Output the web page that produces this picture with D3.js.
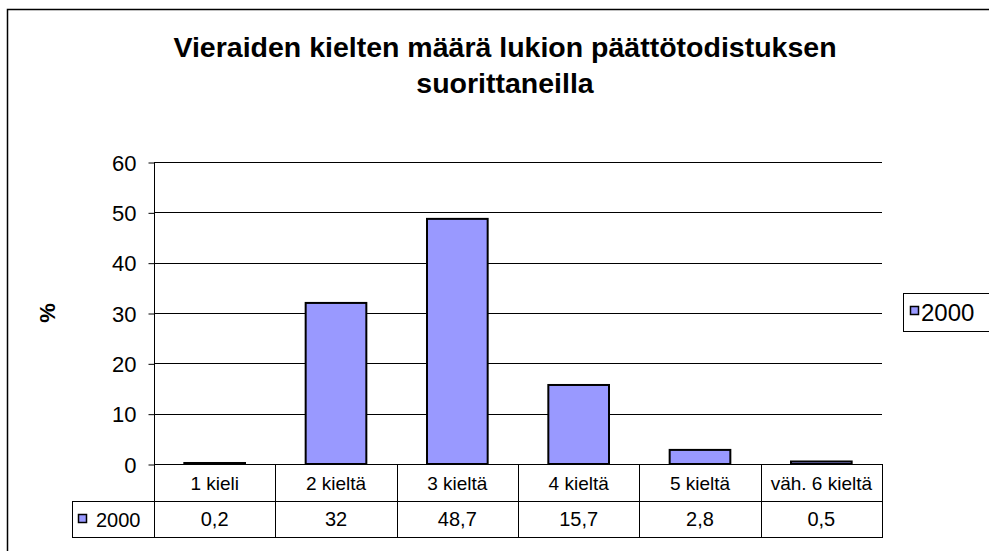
<!DOCTYPE html>
<html>
<head>
<meta charset="utf-8">
<script src="https://cdn.jsdelivr.net/npm/d3@7"></script>
<style>
body{margin:0;background:#fff;}
svg text{font-family:"Liberation Sans",Arial,sans-serif;fill:#000;}
</style>
</head>
<body>
<div id="plot"></div>
<script>
// data
var categories = ['1 kieli','2 kieltä','3 kieltä','4 kieltä','5 kieltä','väh. 6 kieltä'];
var values2000 = [0.2, 32, 48.7, 15.7, 2.8, 0.5];
var valueLabels = ['0,2','32','48,7','15,7','2,8','0,5'];
var seriesName = '2000';
var yTicks = [0,10,20,30,40,50,60];

var W = 989, H = 551;
var plotL = 154, plotR = 882, plotT = 162, plotB = 464;
var barColor = '#9999ff';

var svg = d3.select('#plot')
	.append('svg')
	.attr('width',W)
	.attr('height',H);

svg.append('rect').attr('width',W).attr('height',H).style('fill','#fff');

//outer chart border
svg.append('rect')
	.attr('x',7.5).attr('y',9.5)
	.attr('width',1000).attr('height',600)
	.style('fill','none').style('stroke','#000').style('stroke-width',1.5);

//title
var title = svg.append('text')
	.attr('text-anchor','middle')
	.style('font-size','28.5px')
	.style('font-weight','bold');
title.append('tspan').attr('x',505).attr('y',57).text('Vieraiden kielten määrä lukion päättötodistuksen');
title.append('tspan').attr('x',505).attr('y',93).text('suorittaneilla');

var x = d3.scaleBand().domain(categories).range([plotL,plotR]).padding(0);
var y = d3.scaleLinear().domain([0,60]).range([plotB,plotT]);

//gridlines
svg.append('g').selectAll('line')
	.data(yTicks)
	.enter().append('line')
	.attr('x1',plotL).attr('x2',plotR)
	.attr('y1',function(d){return Math.round(y(d))+0.5;})
	.attr('y2',function(d){return Math.round(y(d))+0.5;})
	.style('stroke','#000').style('stroke-width',1);

//y axis
var yAxis = svg.append('g')
	.attr('transform','translate('+(plotL+0.5)+',0.5)')
	.call(d3.axisLeft(y).tickValues(yTicks).tickSize(6).tickPadding(12).tickSizeOuter(0));
yAxis.select('.domain').attr('d','M0,'+(plotT-0.5)+'V'+(plotB-0.5)).style('stroke','#000');
yAxis.selectAll('text').style('font-size','22px').style('font-family','"Liberation Sans",Arial,sans-serif').attr('dy','0.35em');

//axis title
svg.append('text')
	.attr('transform','translate(55,313) rotate(-90)')
	.attr('text-anchor','middle')
	.style('font-size','22px')
	.style('font-weight','bold')
	.text('%');

//bars
var bw = x.bandwidth()*0.5;
svg.append('g').selectAll('rect')
	.data(values2000)
	.enter().append('rect')
	.attr('x',function(d,i){return x(categories[i])+(x.bandwidth()-bw)/2;})
	.attr('y',function(d){return y(d);})
	.attr('width',bw)
	.attr('height',function(d){return y(0)-y(d);})
	.style('fill',barColor)
	.style('stroke','#000')
	.style('stroke-width',2);

//data table
var rowTop = plotB, rowMid = 501, rowBot = 537, tableL = 72;
var tbl = svg.append('g').style('stroke','#000').style('stroke-width',1);
tbl.append('line').attr('x1',plotL).attr('x2',plotR).attr('y1',rowTop+0.5).attr('y2',rowTop+0.5);
tbl.append('line').attr('x1',tableL).attr('x2',plotR).attr('y1',rowMid+0.5).attr('y2',rowMid+0.5);
tbl.append('line').attr('x1',tableL).attr('x2',plotR).attr('y1',rowBot+0.5).attr('y2',rowBot+0.5);
tbl.append('line').attr('x1',tableL+0.5).attr('x2',tableL+0.5).attr('y1',rowMid).attr('y2',rowBot+1);
var bounds = categories.map(function(c){return x(c);}).concat([plotR]);
tbl.selectAll('line.v').data(bounds).enter().append('line')
	.attr('x1',function(d){return Math.round(d)+0.5;})
	.attr('x2',function(d){return Math.round(d)+0.5;})
	.attr('y1',rowTop).attr('y2',rowBot+1);

svg.append('g').selectAll('text')
	.data(categories)
	.enter().append('text')
	.attr('x',function(d){return x(d)+x.bandwidth()/2;})
	.attr('y',490)
	.attr('text-anchor','middle')
	.style('font-size','19px')
	.text(function(d){return d;});

svg.append('g').selectAll('text')
	.data(valueLabels)
	.enter().append('text')
	.attr('x',function(d,i){return x(categories[i])+x.bandwidth()/2;})
	.attr('y',526)
	.attr('text-anchor','middle')
	.style('font-size','20px')
	.text(function(d){return d;});

svg.append('rect').attr('x',78.5).attr('y',514.5).attr('width',8).attr('height',8)
	.style('fill',barColor).style('stroke','#000').style('stroke-width',1.5);
svg.append('text').attr('x',96).attr('y',527).style('font-size','20px').text(seriesName);

//legend
svg.append('rect').attr('x',903.5).attr('y',293.5).attr('width',100).attr('height',38)
	.style('fill','#fff').style('stroke','#000').style('stroke-width',1);
svg.append('rect').attr('x',910.5).attr('y',306.5).attr('width',8).attr('height',8)
	.style('fill',barColor).style('stroke','#000').style('stroke-width',1.5);
svg.append('text').attr('x',921).attr('y',321).style('font-size','24px').text(seriesName);
</script>
</body>
</html>
